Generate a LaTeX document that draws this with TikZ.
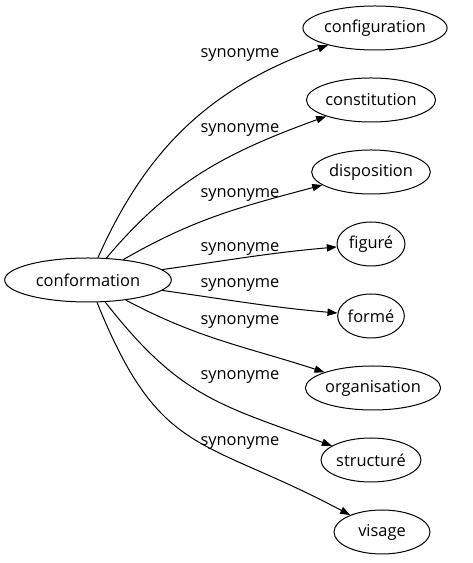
\documentclass[tikz,border=0pt]{standalone}
\usepackage{fontspec}
\setmainfont{Open Sans}
\usetikzlibrary{arrows.meta,shapes.geometric}

\begin{document}
\begin{tikzpicture}[
  x=0.75pt,y=0.75pt,
  font=\fontsize{12.3}{14}\selectfont,
  word/.style={draw,ellipse,line width=0.75pt,inner sep=0pt,
               minimum height=33pt},
  lbl/.style={inner sep=0pt},
  arr/.style={-{Triangle[length=7.5pt,width=5.5pt]},line width=0.75pt},
]
  \useasboundingbox (0,0) rectangle (472,563);

  \node[word,minimum width=125pt] (conf) at (88,283) {conformation};

  \node[word,minimum width=107pt] (cfg) at (375,535) {configuration};
  \node[word,minimum width=96pt]  (cst) at (371,463) {constitution};
  \node[word,minimum width=89pt]  (dsp) at (371,391) {disposition};
  \node[word,minimum width=51pt]  (fig) at (371,319) {figuré};
  \node[word,minimum width=50pt]  (frm) at (371,247) {formé};
  \node[word,minimum width=99pt]  (org) at (373,175) {organisation};
  \node[word,minimum width=75pt]  (str) at (371,103) {structuré};
  \node[word,minimum width=72pt]  (vis) at (382,31)  {visage};

  % edge labels
  \node[lbl] (l1) at (240,508) {synonyme};
  \node[lbl] (l2) at (240,433) {synonyme};
  \node[lbl] (l3) at (240,368) {synonyme};
  \node[lbl] (l4) at (240,314) {synonyme};
  \node[lbl] (l5) at (240,278) {synonyme};
  \node[lbl] (l6) at (240,241) {synonyme};
  \node[lbl] (l7) at (240,186) {synonyme};
  \node[lbl] (l8) at (240,120) {synonyme};

  \draw[arr] (conf) to[out=66,in=200]  (cfg);
  \draw[arr] (conf) to[out=50,in=200]  (cst);
  \draw[arr] (conf) to[out=30,in=195]  (dsp);
  \draw[arr] (conf) to[out=8,in=185]   (fig);
  \draw[arr] (conf) to[out=-8,in=175]  (frm);
  \draw[arr] (conf) to[out=-28,in=162] (org);
  \draw[arr] (conf) to[out=-52,in=160,looseness=1.15] (str);
  \draw[arr] (conf) to[out=-68,in=152,looseness=1.3]  (vis);
\end{tikzpicture}
\end{document}
